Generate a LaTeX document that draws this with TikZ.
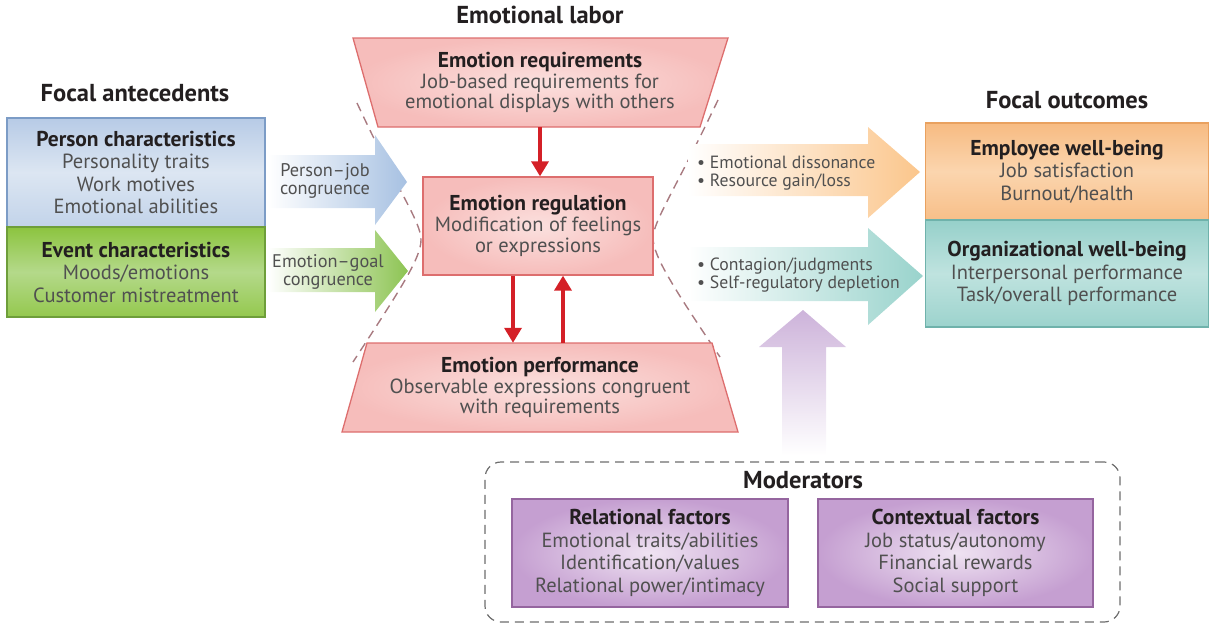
\documentclass[tikz,border=0pt]{standalone}
\usepackage{fontspec}
\setmainfont{PT Sans}
\usetikzlibrary{arrows.meta}

\definecolor{titlegray}{HTML}{231F20}
\definecolor{bodygray}{HTML}{505050}
\definecolor{personA}{HTML}{B7CBE6}
\definecolor{personB}{HTML}{DCE6F2}
\definecolor{personline}{HTML}{7C9CC6}
\definecolor{eventA}{HTML}{8CC43F}
\definecolor{eventB}{HTML}{B4D98A}
\definecolor{eventline}{HTML}{6E9E3A}
\definecolor{bluearrow}{HTML}{A7C1E2}
\definecolor{greenarrow}{HTML}{8DC453}
\definecolor{pinkA}{HTML}{F6BDBB}
\definecolor{pinkB}{HTML}{FBE0DE}
\definecolor{pinkline}{HTML}{DD6E6E}
\definecolor{redarrow}{HTML}{D42027}
\definecolor{dashpink}{HTML}{A87A80}
\definecolor{orangearrow}{HTML}{FBC68C}
\definecolor{orangeA}{HTML}{F7BB82}
\definecolor{orangeB}{HTML}{FBD5AE}
\definecolor{orangeline}{HTML}{E9A15F}
\definecolor{tealarrow}{HTML}{99D3CC}
\definecolor{tealA}{HTML}{96D0CA}
\definecolor{tealB}{HTML}{BFE3DF}
\definecolor{tealline}{HTML}{6FB2AB}
\definecolor{purplearrow}{HTML}{CDB3DA}
\definecolor{purpleA}{HTML}{C59FD1}
\definecolor{purpleB}{HTML}{EFE3F2}
\definecolor{purpleline}{HTML}{95659F}
\definecolor{modgray}{HTML}{6D6D6D}

\newcommand{\boxhead}[1]{{\color{titlegray}\bfseries\fontsize{21.5}{22.5}\selectfont #1}}

\begin{document}
\begin{tikzpicture}[x=1pt,y=-1pt,
    txt/.style={align=center,text=bodygray,inner sep=0pt,font=\fontsize{20.5}{22.5}\selectfont},
    small/.style={align=center,text=bodygray,inner sep=0pt,font=\fontsize{18.3}{17.5}\selectfont},
    bullets/.style={align=left,text=bodygray,inner sep=0pt,anchor=west,font=\fontsize{17.7}{18.5}\selectfont},
    ttl/.style={text=titlegray,inner sep=0pt,font=\fontsize{24.5}{26}\selectfont\bfseries},
    box/.style={txt,line width=1.3pt},
    redarr/.style={draw=redarrow,line width=3.5pt,-{Triangle[length=15pt,width=17pt]}},
    hglass/.style={draw=dashpink,line width=1.4pt,dash pattern=on 9pt off 6pt},
  ]
  \useasboundingbox (0,0) rectangle (1212,624);

  %hourglass
  \draw[hglass] (357,103) .. controls (400,195) and (421,222) .. (421,240)
    .. controls (421,258) and (400,290) .. (353,362);
  \draw[hglass] (718,100) .. controls (675,190) and (653,222) .. (653,238)
    .. controls (653,256) and (675,290) .. (720,357);

  %titles
  \node[ttl] (labor) at (540,15) {Emotional labor};
  \node[ttl] (antec) at (135,93) {Focal antecedents};
  \node[ttl] (outcomes) at (1067,100) {Focal outcomes};

  %focal antecedents
  \node[box,draw=personline,top color=personA,bottom color=personA!70!personB,middle color=personB,
    minimum width=258pt,minimum height=109pt] (person) at (136,172.5)
    {\boxhead{Person characteristics}\\Personality traits\\Work motives\\Emotional abilities};
  \node[box,draw=eventline,top color=eventA,bottom color=eventA!80!eventB,middle color=eventB,
    minimum width=258pt,minimum height=90pt] (event) at (136,272)
    {\boxhead{Event characteristics}\\Moods/emotions\\Customer mistreatment};

  %input arrows
  \shade[left color=white,middle color=bluearrow,right color=bluearrow]
    (268,155) -- (375,155) -- (375,135) -- (407,182) -- (375,225) -- (375,208) -- (268,208) -- cycle;
  \shade[left color=white,middle color=greenarrow,right color=greenarrow]
    (268,248) -- (375,248) -- (375,230) -- (408,271) -- (375,312) -- (375,292) -- (268,292) -- cycle;
  \node[small] (pjlabel) at (325,181) {Person--job\\congruence};
  \node[small] (eglabel) at (328,272) {Emotion--goal\\congruence};

  %emotional labor
  \shade[draw=pinkline,line width=1.3pt,inner color=pinkB,outer color=pinkA]
    (353,38) -- (728,38) -- (700,127) -- (378,127) -- cycle;
  \node[txt,font=\fontsize{20.5}{20.5}\selectfont,minimum height=89pt] (req) at (540,82.5)
    {\boxhead{Emotion requirements}\\Job-based requirements for\\emotional displays with others};
  \node[box,draw=pinkline,inner color=pinkB,outer color=pinkA,font=\fontsize{20.5}{21}\selectfont,
    minimum width=230pt,minimum height=98pt] (reg) at (538,226)
    {\boxhead{Emotion regulation}\\Modification of feelings\\or expressions};
  \shade[draw=pinkline,line width=1.3pt,inner color=pinkB,outer color=pinkA]
    (367,343) -- (712,343) -- (738,432) -- (342,432) -- cycle;
  \node[txt,font=\fontsize{20.5}{20.5}\selectfont,minimum height=89pt] (perf) at (540,387.5)
    {\boxhead{Emotion performance}\\Observable expressions congruent\\with requirements};

  \draw[redarr] (req.south) -- (req.south |- reg.north);
  \draw[redarr] ([xshift=-25pt]reg.south) -- ([xshift=-25pt]reg.south |- perf.north);
  \draw[redarr] ([xshift=25pt]reg.south |- perf.north) -- ([xshift=25pt]reg.south);

  %output arrows
  \shade[left color=white,middle color=orangearrow,right color=orangearrow]
    (688,144) -- (868,144) -- (868,127) -- (920,172) -- (868,218) -- (868,196) -- (688,196) -- cycle;
  \shade[left color=white,middle color=tealarrow,right color=tealarrow]
    (688,247) -- (868,247) -- (868,228) -- (923,276) -- (868,325) -- (868,301) -- (688,301) -- cycle;
  \node[bullets] (edlabel) at (697,173) {• Emotional dissonance\\• Resource gain/loss};
  \node[bullets] (cglabel) at (697,275) {• Contagion/judgments\\• Self-regulatory depletion};

  %focal outcomes
  \node[box,draw=orangeline,top color=orangeA,bottom color=orangeA!85!orangeB,middle color=orangeB,
    minimum width=283pt,minimum height=97pt] (employee) at (1067,171.5)
    {\boxhead{Employee well-being}\\Job satisfaction\\Burnout/health};
  \node[box,draw=tealline,top color=tealA,bottom color=tealA!85!tealB,middle color=tealB,
    minimum width=283pt,minimum height=107pt] (orgwb) at (1067,273.5)
    {\boxhead{Organizational well-being}\\Interpersonal performance\\Task/overall performance};

  %moderators
  \shade[top color=purplearrow,bottom color=white]
    (782,455) -- (782,347) -- (759,347) -- (803,310) -- (846,347) -- (826,347) -- (826,455) -- cycle;
  \node[draw=modgray,line width=1.2pt,dash pattern=on 9pt off 6pt,rounded corners=16pt,
    minimum width=635pt,minimum height=160pt] (mods) at (802.5,542) {};
  \node[ttl] (modtitle) at (803,480) {Moderators};
  \node[box,draw=purpleline,inner color=purpleB,outer color=purpleA,
    minimum width=276pt,minimum height=108pt] (relational) at (650,553)
    {\boxhead{Relational factors}\\Emotional traits/abilities\\Identification/values\\Relational power/intimacy};
  \node[box,draw=purpleline,inner color=purpleB,outer color=purpleA,
    minimum width=275pt,minimum height=108pt] (contextual) at (955.5,553)
    {\boxhead{Contextual factors}\\Job status/autonomy\\Financial rewards\\Social support};
\end{tikzpicture}
\end{document}
